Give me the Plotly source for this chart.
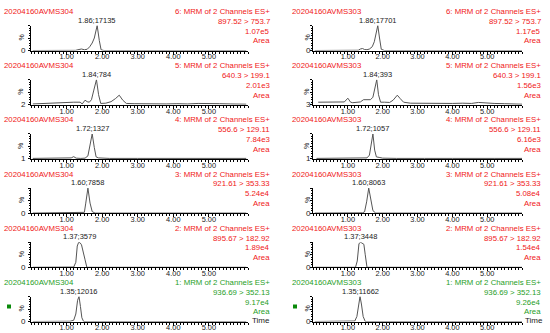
import plotly.graph_objects as go

# ---------------- data ----------------
samples = ["20204160AVMS304", "20204160AVMS303"]
channels = ["6: MRM of 2 Channels ES+", "5: MRM of 2 Channels ES+", "4: MRM of 2 Channels ES+",
            "3: MRM of 2 Channels ES+", "2: MRM of 2 Channels ES+", "1: MRM of 2 Channels ES+"]
transitions = ["897.52 > 753.7", "640.3 > 199.1", "556.6 > 129.11",
               "921.61 > 353.33", "895.67 > 182.92", "936.69 > 352.13"]
areas_304 = ["1.07e5", "2.01e3", "7.84e3", "5.24e4", "1.89e4", "9.17e4"]
areas_303 = ["1.17e5", "1.56e3", "6.16e3", "5.08e4", "1.54e4", "9.26e4"]
peak_rt = [1.86, 1.84, 1.72, 1.60, 1.37, 1.35]
peak_height_304 = [17135, 784, 1327, 7858, 3579, 12016]
peak_height_303 = [17701, 393, 1057, 8063, 3448, 11662]
base_label_304 = ["0", "2", "1", "0", "0", "0"]
base_label_303 = ["0", "3", "1", "0", "0", "0"]
x_tick_vals = [1, 2, 3, 4, 5]

# chromatograms, sample 304 (left column), intensity in %
t_304_ch6 = [0.05, 0.5, 1.0, 1.25, 1.35, 1.42, 1.5, 1.58, 1.65, 1.72, 1.78, 1.86, 1.92, 1.97, 2.05, 3.0, 4.0, 5.0, 6.05]
v_304_ch6 = [0, 0, 0, 0.5, 4, 6, 3, 5, 15, 30, 50, 100, 40, 3, 0, 0, 0, 0, 0]
t_304_ch5 = [0.05, 0.3, 0.6, 0.9, 1.2, 1.38, 1.44, 1.52, 1.58, 1.64, 1.70, 1.76, 1.84, 1.90, 1.96, 2.1, 2.25,
             2.38, 2.48, 2.58, 2.68, 2.9, 3.2, 3.5, 3.8, 4.1, 4.4, 4.7, 5.0, 5.3, 5.6, 5.9, 6.05]
v_304_ch5 = [3, 5, 8, 9, 10, 10, 3, 18, 12, 10, 20, 55, 100, 40, 5, 6, 12,
             25, 38, 18, 5, 4, 3, 5, 3, 4, 3, 5, 3, 4, 3, 2, 2]
t_304_ch4 = [0.05, 0.4, 0.8, 1.05, 1.13, 1.2, 1.27, 1.4, 1.52, 1.6, 1.66, 1.72, 1.78, 1.83, 1.9, 2.2, 3.0, 4.0, 5.0, 6.05]
v_304_ch4 = [2, 2, 3, 2, 4, 9, 3, 2, 3, 12, 55, 100, 45, 8, 4, 2, 2, 2, 2, 2]
t_304_ch3 = [0.05, 1.0, 1.4, 1.5, 1.54, 1.6, 1.66, 1.72, 1.8, 2.0, 3.0, 6.05]
v_304_ch3 = [0, 0, 1, 3, 40, 100, 40, 6, 0, 0, 0, 0]
t_304_ch2 = [0.05, 0.9, 1.2, 1.26, 1.3, 1.34, 1.38, 1.42, 1.47, 1.52, 1.57, 1.7, 2.0, 2.2, 2.4, 3.0, 6.05]
v_304_ch2 = [0, 0, 1, 20, 85, 100, 98, 90, 65, 30, 0, 0, 0, 2, 0, 0, 0]
t_304_ch1 = [0.05, 1.0, 1.1, 1.2, 1.26, 1.31, 1.35, 1.39, 1.43, 1.48, 1.6, 3.0, 6.05]
v_304_ch1 = [0, 0, 1, 5, 30, 85, 100, 60, 15, 0, 0, 0, 0]

# chromatograms, sample 303 (right column)
t_303_ch6 = [0.05, 1.0, 1.3, 1.36, 1.42, 1.48, 1.55, 1.62, 1.7, 1.76, 1.82, 1.86, 1.91, 1.96, 2.05, 3.0, 6.0]
v_303_ch6 = [0, 0, 1, 6, 8, 4, 3, 6, 15, 35, 80, 100, 50, 5, 0, 0, 0]
t_303_ch5 = [0.15, 0.4, 0.7, 0.9, 1.0, 1.08, 1.14, 1.25, 1.36, 1.45, 1.55, 1.65, 1.72, 1.78, 1.83, 1.88, 1.94,
             2.05, 2.2, 2.3, 2.42, 2.5, 2.6, 2.8, 3.1, 3.4, 3.7, 4.0, 4.3, 4.55, 4.75, 4.95, 5.2, 5.5, 5.8, 6.0]
v_303_ch5 = [10, 10, 9, 11, 26, 10, 8, 10, 11, 20, 21, 20, 30, 70, 100, 40, 10,
             10, 9, 18, 38, 25, 10, 6, 5, 6, 5, 5, 6, 5, 9, 6, 5, 4, 3, 2]
t_303_ch4 = [0.1, 0.5, 0.8, 1.0, 1.2, 1.4, 1.55, 1.62, 1.67, 1.72, 1.77, 1.82, 1.9, 2.0, 2.4, 2.8, 3.2, 4.0, 4.6, 5.2, 6.0]
v_303_ch4 = [2, 3, 4, 5, 5, 4, 4, 15, 60, 100, 35, 8, 6, 3, 2, 3, 2, 2, 3, 2, 2]
t_303_ch3 = [0.05, 1.2, 1.42, 1.48, 1.54, 1.6, 1.66, 1.72, 1.8, 2.0, 6.0]
v_303_ch3 = [0, 0, 1, 5, 45, 100, 50, 10, 0, 0, 0]
t_303_ch2 = [0.05, 0.6, 0.7, 0.9, 1.1, 1.22, 1.27, 1.32, 1.37, 1.42, 1.46, 1.5, 1.55, 1.7, 6.0]
v_303_ch2 = [0, 0, 2, 1, 0, 0, 25, 95, 100, 97, 92, 50, 0, 0, 0]
t_303_ch1 = [0.05, 1.1, 1.2, 1.26, 1.31, 1.35, 1.39, 1.44, 1.5, 1.7, 2.7, 2.82, 2.95, 6.0]
v_303_ch1 = [0, 0, 2, 20, 75, 100, 70, 20, 0, 0, 0, 3, 0, 0]

traces_304 = [(t_304_ch6, v_304_ch6), (t_304_ch5, v_304_ch5), (t_304_ch4, v_304_ch4),
              (t_304_ch3, v_304_ch3), (t_304_ch2, v_304_ch2), (t_304_ch1, v_304_ch1)]
traces_303 = [(t_303_ch6, v_303_ch6), (t_303_ch5, v_303_ch5), (t_303_ch4, v_303_ch4),
              (t_303_ch3, v_303_ch3), (t_303_ch2, v_303_ch2), (t_303_ch1, v_303_ch1)]

# ---------------- layout geometry (pixels) ----------------
W, H = 550, 333
col_px = [(31, 248), (313, 522)]
col_range = [[0, 6.1], [0, 6.0]]
title_x = [2, 290]
right_x = [272, 543]
pct_x = [21, 307]
base_lbl_x = [23, 308]
time_x = [261, 534]
square_x = [7, 293]
BASE0 = 50.5
ROW_STEP = 54.2
PLOT_H = 25
TITLE_OFF = 39
LINE_STEP = 9.8

RED = "#f01818"
GREEN = "#1f9e1f"
FONT = "Liberation Sans, Arial, sans-serif"

fig = go.Figure()
layout = dict(width=W, height=H, margin=dict(l=0, r=0, t=0, b=0),
              paper_bgcolor="white", plot_bgcolor="white", showlegend=False,
              font=dict(family=FONT, size=7.5, color="#222"))
annotations = []
shapes = []

def py(p):
    return 1 - p / H

columns = [
    (samples[0], traces_304, areas_304, peak_height_304, base_label_304),
    (samples[1], traces_303, areas_303, peak_height_303, base_label_303),
]

for c, (sample, traces, areas, heights, base_labels) in enumerate(columns):
    for r in range(6):
        k = r * 2 + c + 1
        xs = "" if k == 1 else str(k)
        base = BASE0 + ROW_STEP * r
        top = base - PLOT_H
        t, v = traces[r]
        fig.add_trace(go.Scatter(x=t, y=v, mode="lines", xaxis="x" + xs, yaxis="y" + xs,
                                 line=dict(color="#555555", width=1), hoverinfo="skip"))
        layout["xaxis" + xs] = dict(
            domain=[col_px[c][0] / W, col_px[c][1] / W], anchor="y" + xs, range=col_range[c],
            showgrid=False, zeroline=False, showline=True, linecolor="black", linewidth=1,
            tickmode="array", tickvals=x_tick_vals, ticktext=["%.2f" % x for x in x_tick_vals],
            ticks="outside", ticklen=3, tickcolor="black", tickfont=dict(size=7.4, color="#222"),
            ticklabelstandoff=-4,
            minor=dict(ticks="outside", ticklen=2, tickmode="linear", tick0=0, dtick=0.1, tickcolor="black"),
        )
        layout["yaxis" + xs] = dict(
            domain=[py(base), py(top)], anchor="x" + xs, range=[0, 100],
            showgrid=False, zeroline=False, showline=True, linecolor="black", linewidth=1,
            showticklabels=False, ticks="outside", ticklen=2, tickcolor="black",
            tickmode="linear", tick0=0, dtick=50,
            minor=dict(ticks="outside", ticklen=1, tickmode="linear", tick0=0, dtick=10, tickcolor="black"),
        )
        color = GREEN if r == 5 else RED
        annotations.append(dict(xref="paper", yref="paper", x=title_x[c] / W, y=py(base - TITLE_OFF),
                                text=sample, showarrow=False, xanchor="left", yanchor="middle",
                                font=dict(size=7.8, color=color)))
        for j, line in enumerate([channels[r], transitions[r], areas[r], "Area"]):
            annotations.append(dict(xref="paper", yref="paper", x=right_x[c] / W,
                                    y=py(base - TITLE_OFF + LINE_STEP * j),
                                    text=line, showarrow=False, xanchor="right", yanchor="middle",
                                    font=dict(size=7.8, color=color)))
        annotations.append(dict(xref="x" + xs, yref="y" + xs, x=peak_rt[r], y=100,
                                text="%.2f;%d" % (peak_rt[r], heights[r]), showarrow=False,
                                xanchor="center", yanchor="bottom", yshift=-1,
                                font=dict(size=7.5, color="#222")))
        annotations.append(dict(xref="paper", yref="paper", x=pct_x[c] / W, y=py(base - 13),
                                text="%", textangle=-90, showarrow=False,
                                xanchor="center", yanchor="middle", font=dict(size=7, color="#222")))
        annotations.append(dict(xref="paper", yref="paper", x=base_lbl_x[c] / W, y=py(base),
                                text=base_labels[r], showarrow=False,
                                xanchor="center", yanchor="middle", font=dict(size=8, color="#222")))
        if r == 5:
            annotations.append(dict(xref="paper", yref="paper", x=time_x[c] / W, y=py(base - 1),
                                    text="Time", showarrow=False, xanchor="center", yanchor="middle",
                                    font=dict(size=8, color="#222")))
            shapes.append(dict(type="rect", xref="paper", yref="paper",
                               x0=square_x[c] / W, x1=(square_x[c] + 4) / W,
                               y0=py(base - 13), y1=py(base - 17),
                               fillcolor="#0a8a0a", line=dict(width=0)))

layout["annotations"] = annotations
layout["shapes"] = shapes
fig.update_layout(**layout)
fig.write_html("out.html", config={"displayModeBar": False},
               post_script="document.body.style.margin='0';document.body.style.overflow='hidden';")
